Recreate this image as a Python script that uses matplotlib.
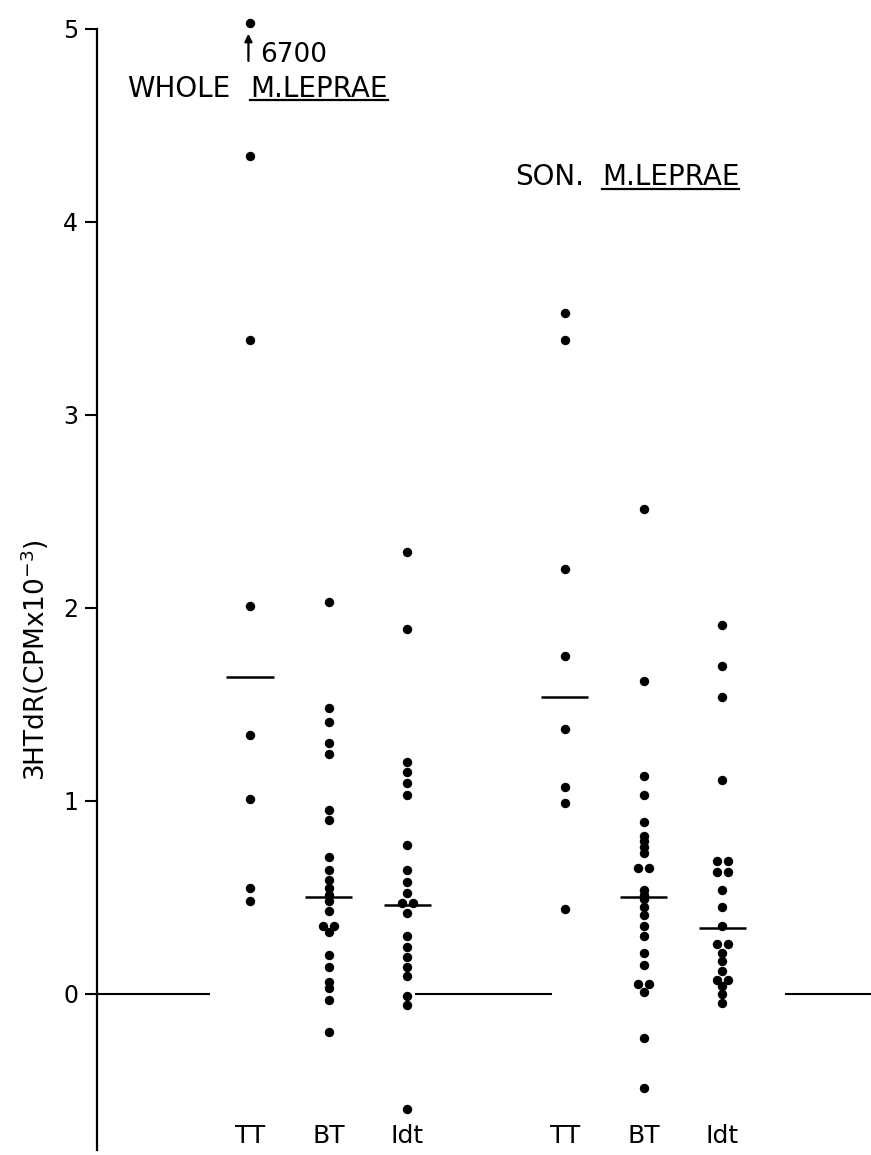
import numpy as np
import matplotlib
matplotlib.use("Agg")
import matplotlib.pyplot as plt

# 3HTdR uptake (CPM x 10^-3); the top TT dot is the off-scale 6700 value
groups = ["TT", "BT", "Idt"]

whole_tt = [5.03, 4.34, 3.39, 2.01, 1.34, 1.01, 0.55, 0.48]
whole_bt = [2.03, 1.48, 1.41, 1.30, 1.24, 0.95, 0.90, 0.71, 0.64, 0.59, 0.55, 0.51,
            0.48, 0.43, 0.35, 0.35, 0.32, 0.20, 0.14, 0.06, 0.03, -0.03, -0.20]
whole_idt = [2.29, 1.89, 1.20, 1.15, 1.09, 1.03, 0.77, 0.64, 0.58, 0.52, 0.47, 0.47,
             0.42, 0.30, 0.24, 0.19, 0.14, 0.09, -0.01, -0.06, -0.60]

son_tt = [3.53, 3.39, 2.20, 1.75, 1.37, 1.07, 0.99, 0.44]
son_bt = [2.51, 1.62, 1.13, 1.03, 0.89, 0.82, 0.79, 0.76, 0.73, 0.65, 0.65, 0.54,
          0.51, 0.49, 0.45, 0.41, 0.35, 0.30, 0.21, 0.15, 0.05, 0.05, 0.01, -0.23, -0.49]
son_idt = [1.91, 1.70, 1.54, 1.11, 0.69, 0.69, 0.63, 0.63, 0.54, 0.45, 0.35, 0.26,
           0.26, 0.21, 0.17, 0.12, 0.07, 0.07, 0.04, 0.00, -0.05]

whole_means = [1.64, 0.50, 0.46]
son_means = [1.54, 0.50, 0.34]

columns = [whole_tt, whole_bt, whole_idt, son_tt, son_bt, son_idt]
means = whole_means + son_means
positions = [1, 2, 3, 5, 6, 7]
labels = groups + groups


def spread(vals, step=0.14):
    # put equal values side by side
    vals = np.asarray(vals)
    offs = np.zeros(len(vals))
    for v in np.unique(vals):
        idx = np.where(vals == v)[0]
        n = len(idx)
        offs[idx] = (np.arange(n) - (n - 1) / 2) * step
    return offs


fig = plt.figure(figsize=(8.71, 11.55), dpi=100)
ax = fig.add_axes([97 / 871, 5 / 1155, 774 / 871, 1121 / 1155])

for pos, vals in zip(positions, columns):
    ax.scatter(pos + spread(vals), vals, s=46, c="black", linewidths=0,
               clip_on=False, zorder=3)

for pos, m in zip(positions, means):
    ax.hlines(m, pos - 0.3, pos + 0.3, color="black", lw=1.8)

# zero line pieces between the groups
for x0, x1 in [(-0.944, 0.49), (3.10, 4.84), (7.80, 8.89)]:
    ax.hlines(0, x0, x1, color="black", lw=1.5)

ax.set_xlim(-0.944, 8.89)
ax.set_ylim(-0.81, 5.0)
for s in ["top", "right", "bottom"]:
    ax.spines[s].set_visible(False)
ax.spines["left"].set_linewidth(1.6)
ax.set_xticks([])
ax.set_yticks(range(6))
ax.tick_params(axis="y", length=8.6, width=1.5, labelsize=17, pad=5)

for pos, name in zip(positions, labels):
    ax.text(pos, -0.80, name, ha="center", va="bottom", fontsize=18)

fig.canvas.draw()
renderer = fig.canvas.get_renderer()


def title(x0, y, prefix, name, gap):
    t = ax.text(x0, y, name, ha="left", va="baseline", fontsize=20)
    bb = t.get_window_extent(renderer).transformed(ax.transData.inverted())
    ax.plot([bb.x0, bb.x1], [y - 0.02, y - 0.02], color="black", lw=1.6,
            clip_on=False)
    ax.text(x0 - gap, y, prefix, ha="right", va="baseline", fontsize=20)


title(1.0, 4.65, "WHOLE", "M.LEPRAE", 0.25)
title(5.47, 4.19, "SON.", "M.LEPRAE", 0.22)

ax.annotate("", xy=(0.98, 4.99), xytext=(0.98, 4.82),
            arrowprops=dict(arrowstyle="-|>", lw=1.6, color="black",
                            mutation_scale=11), annotation_clip=False)
ax.text(1.13, 4.83, "6700", ha="left", va="baseline", fontsize=19)

fig.text(35 / 871, 1 - 660 / 1155, "3HTdR(CPMx10$^{-3}$)", rotation=90,
         ha="center", va="center", fontsize=19)

fig.savefig("out.png", dpi=100)
